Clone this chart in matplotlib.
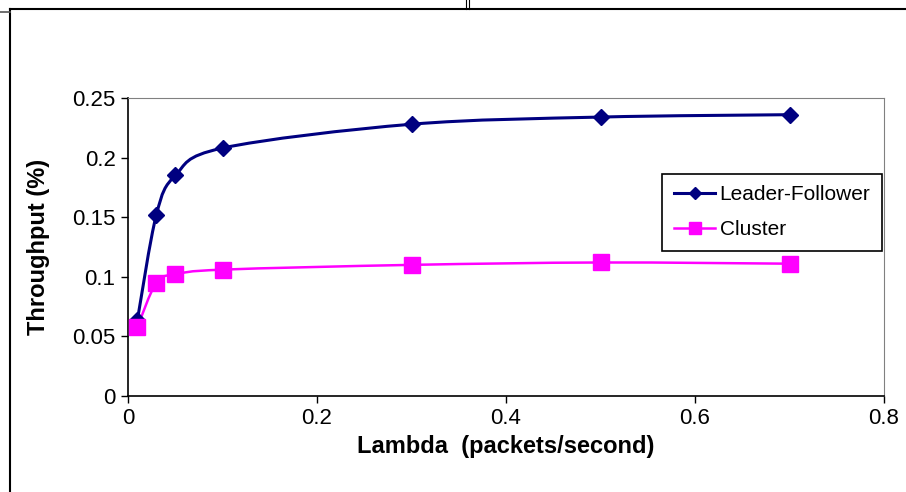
import matplotlib.pyplot as plt
import numpy as np
from matplotlib.path import Path
from matplotlib.patches import PathPatch
from matplotlib.lines import Line2D

plt.rcParams['font.family'] = ['Liberation Sans', 'DejaVu Sans']

# data
lam = [0.01, 0.03, 0.05, 0.1, 0.3, 0.5, 0.7]
leader_follower = [0.064, 0.152, 0.185, 0.208, 0.228, 0.234, 0.236]
cluster = [0.058, 0.095, 0.102, 0.106, 0.110, 0.112, 0.111]

x_ticks = [0, 0.2, 0.4, 0.6, 0.8]
x_labels = ['0', '0.2', '0.4', '0.6', '0.8']
y_ticks = [0, 0.05, 0.1, 0.15, 0.2, 0.25]
y_labels = ['0', '0.05', '0.1', '0.15', '0.2', '0.25']


def smooth_path(xs, ys):
    # excel-like smoothed line (catmull-rom -> bezier)
    pts = np.column_stack([xs, ys])
    verts = [pts[0]]
    codes = [Path.MOVETO]
    n = len(pts)
    for i in range(n - 1):
        p0 = pts[i - 1] if i > 0 else pts[i]
        p1 = pts[i]
        p2 = pts[i + 1]
        p3 = pts[i + 2] if i + 2 < n else pts[i + 1]
        c1 = p1 + (p2 - p0) / 6.0
        c2 = p2 - (p3 - p1) / 6.0
        verts += [c1, c2, p2]
        codes += [Path.CURVE4] * 3
    return Path(verts, codes)


fig = plt.figure(figsize=(9.06, 4.92), dpi=100)
ax = fig.add_axes([128 / 906, 1 - 396 / 492, 756 / 906, 298 / 492])

navy = '#000080'
pink = '#ff00ff'

ax.add_patch(PathPatch(smooth_path(lam, leader_follower), fill=False, edgecolor=navy, lw=2.2, zorder=3))
ax.add_patch(PathPatch(smooth_path(lam, cluster), fill=False, edgecolor=pink, lw=1.8, zorder=3))
ax.plot(lam, leader_follower, ls='none', marker='D', ms=8.5, color=navy, zorder=4)
ax.plot(lam, cluster, ls='none', marker='s', ms=11, color=pink, zorder=4)

# legend handles
h1 = Line2D([], [], color=navy, lw=2.2, marker='D', ms=6)
h2 = Line2D([], [], color=pink, lw=1.8, marker='s', ms=9)
leg = ax.legend([h1, h2], ['Leader-Follower', 'Cluster'], loc='upper right',
                bbox_to_anchor=(0.997, 0.745), fontsize=15, frameon=True,
                fancybox=False, framealpha=1, edgecolor='black',
                handlelength=2.0, handletextpad=0.2, borderpad=0.55,
                labelspacing=0.75, borderaxespad=0)
leg.get_frame().set_linewidth(1.2)

ax.set_xlim(0, 0.8)
ax.set_ylim(0, 0.25)
ax.set_xticks(x_ticks)
ax.set_xticklabels(x_labels)
ax.set_yticks(y_ticks)
ax.set_yticklabels(y_labels)
ax.tick_params(direction='out', length=5, width=1, labelsize=16, pad=4)

ax.spines['top'].set_color('#808080')
ax.spines['right'].set_color('#808080')
ax.spines['left'].set_linewidth(1.2)
ax.spines['bottom'].set_linewidth(1.2)

ax.set_xlabel('Lambda  (packets/second)', fontsize=17, fontweight='bold', labelpad=4)
ax.set_ylabel('Throughput (%)', fontsize=17, fontweight='bold', labelpad=16)

# outer frame of the chart object
fig.add_artist(Line2D([10, 906], [492 - 9, 492 - 9], transform=None, color='black', lw=1.5))
fig.add_artist(Line2D([10, 10], [492 - 9, 0], transform=None, color='black', lw=1.5))
fig.add_artist(Line2D([0, 10], [492 - 12, 492 - 12], transform=None, color='#555555', lw=1.2))
fig.add_artist(Line2D([466, 466], [492, 492 - 9], transform=None, color='black', lw=0.8))
fig.add_artist(Line2D([469, 469], [492, 492 - 9], transform=None, color='black', lw=0.8))

fig.savefig('out.png', dpi=100)
